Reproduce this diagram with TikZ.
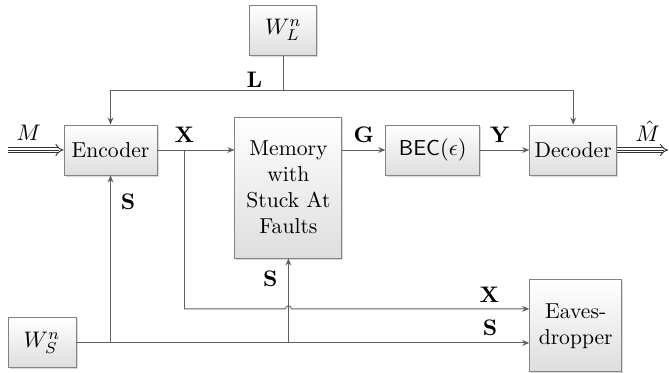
\documentclass[tikz,border=0pt]{standalone}
\usepackage{amsmath}
\usepackage{tikz}
\usetikzlibrary{arrows.meta,positioning,calc,shadows}
\definecolor{lineg}{RGB}{95,95,95}
\definecolor{boxg}{RGB}{130,130,130}

\begin{document}
\begin{tikzpicture}[
  font=\fontsize{9.6}{11.6}\selectfont,
  node distance=0.6cm and 0.7cm,
  blk/.style={draw=boxg,top color=white,bottom color=black!13,
              drop shadow={shadow xshift=0.7pt,shadow yshift=-0.7pt,opacity=0.3},
              minimum height=0.781cm,align=center,inner sep=2pt},
  lbl/.style={inner sep=1pt,text=black},
  arr/.style={-{Stealth[length=1.1mm,width=0.9mm]},lineg},
  bus/.style={-{Implies},draw=black!80,double distance=1.5pt,line width=0.4pt},
  busmid/.style={draw=black!80,line width=0.4pt,shorten >=2pt},
]
  \useasboundingbox (-1.727,-3.469) rectangle (8.727,2.344);

  \node[blk,minimum width=1.453cm] (enc) at (0,0) {Encoder};
  \node[blk,minimum width=1.672cm,minimum height=2.203cm,
        right=1.203cm of enc.north east,anchor=north west,yshift=0.125cm] (mem)
    {Memory\\with\\Stuck At\\Faults};
  \node[blk,minimum width=1.469cm,anchor=west,xshift=0.672cm] (bec)
    at (mem.east |- enc) {\textsf{BEC}$(\epsilon)$};
  \node[blk,minimum width=1.359cm,right=0.766cm of bec] (dec) {Decoder};
  \node[blk,minimum width=1.047cm,above=0.953cm of mem,xshift=-0.078cm] (wl) {$W_L^n$};
  \node[blk,minimum width=1.4375cm,minimum height=1.4375cm,
        below=1.625cm of dec.south west,anchor=north west] (eve) {Eaves-\\dropper};

  \coordinate (xin) at ($(eve.west)+(0,0.266)$);
  \coordinate (sin) at ($(eve.west)+(0,-0.266)$);
  \node[blk,minimum width=1.0625cm] (ws) at ($(enc |- sin)+(-1.07,0)$) {$W_S^n$};

  \coordinate[left=0.875cm of enc.west] (min);
  \coordinate[right=0.797cm of dec.east] (mout);
  \coordinate[right=0.422cm of enc.east] (xj);
  \coordinate[below=0.547cm of wl.south] (lj);

  \draw[bus] (min) -- node[lbl,above=3pt,pos=0.38] (lblM) {$M$} (enc.west);
  \draw[busmid] (min) -- (enc.west);
  \draw[bus] (dec.east) -- node[lbl,above=2.5pt,pos=0.6] (lblMh) {$\hat{M}$} (mout);
  \draw[busmid] (dec.east) -- (mout);

  \draw[arr] (enc.east) -- (mem.west |- enc.east);
  \draw[arr] (mem.east |- bec) -- node[lbl,above=2pt] (lblG) {$\mathbf{G}$} (bec);
  \draw[arr] (bec) -- node[lbl,above=2pt,pos=0.4] (lblY) {$\mathbf{Y}$} (dec);

  \draw[arr] (wl) -- (lj) -| (enc);
  \draw[arr] (lj) -| (dec);

  \draw[arr] (ws) -- (sin);
  \draw[arr] (enc |- sin) -- (enc);
  \draw[arr] (mem |- sin) -- (mem);
  \draw[arr] (xj) -- (xj |- xin) -- ($(mem |- xin)+(-0.047,0)$)
    arc[start angle=180,end angle=0,radius=0.047] -- (xin);

  \node[lbl,above=2pt of xj] (lblX) {$\mathbf{X}$};
  \node[lbl,above left=0.01cm and 0.29cm of lj] (lblL) {$\mathbf{L}$};
  \node[lbl,below right=0.25cm and 0.12cm of enc.south] (lblSe) {$\mathbf{S}$};
  \node[lbl,below left=0.15cm and 0.13cm of mem.south] (lblSm) {$\mathbf{S}$};
  \node[lbl,above left=0.06cm and 0.43cm of xin] (lblXe) {$\mathbf{X}$};
  \node[lbl,above left=0.08cm and 0.46cm of sin] (lblSe2) {$\mathbf{S}$};
\end{tikzpicture}
\end{document}
